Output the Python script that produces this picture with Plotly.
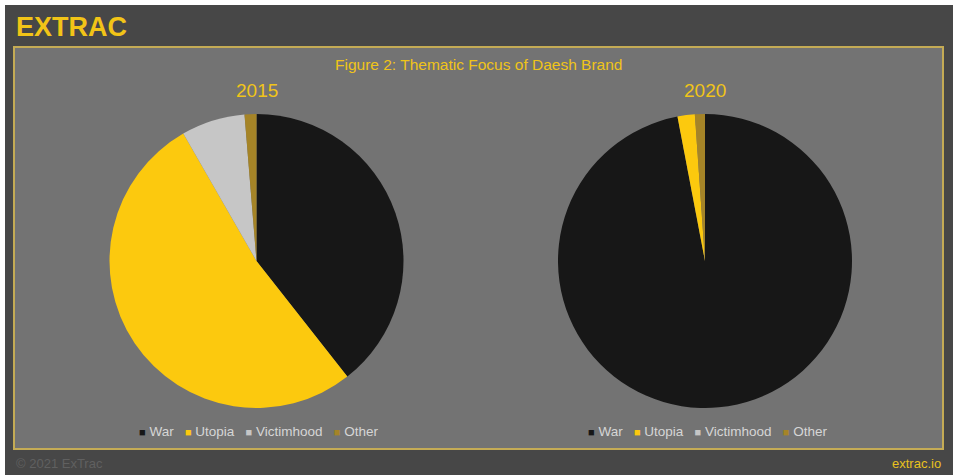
import plotly.graph_objects as go

# ---- data ----
categories = ["War", "Utopia", "Victimhood", "Other"]
values_2015 = [39.4, 52.3, 7.0, 1.3]
values_2020 = [97.0, 1.9, 0.0, 1.1]
years = ["2015", "2020"]
colors = ["#171717", "#fcc90e", "#c6c6c6", "#a58427"]

W, H = 953, 475
FONT = "Liberation Sans, Arial, sans-serif"


def px(x):
    return x / W


def py(y):
    return 1 - y / H


fig = go.Figure()

pie_boxes = [(109.5, 403.5), (558, 852)]
for vals, (x0, x1) in zip([values_2015, values_2020], pie_boxes):
    fig.add_trace(go.Pie(
        labels=categories,
        values=vals,
        sort=False,
        direction="clockwise",
        rotation=0,
        textinfo="none",
        hoverinfo="label+percent",
        marker=dict(colors=colors, line=dict(width=0)),
        domain=dict(x=[px(x0), px(x1)], y=[py(408), py(114)]),
        showlegend=False,
    ))

shapes = [
    # white edge of the scan
    dict(type="rect", xref="paper", yref="paper", x0=0, x1=1, y0=0, y1=1,
         fillcolor="#ffffff", line=dict(width=0), layer="below"),
    # dark background
    dict(type="rect", xref="paper", yref="paper", x0=px(5), x1=1, y0=0, y1=py(5),
         fillcolor="#474747", line=dict(width=0), layer="below"),
    # chart panel
    dict(type="rect", xref="paper", yref="paper", x0=px(14), x1=px(943), y0=py(449), y1=py(47),
         fillcolor="#737373", line=dict(color="#c4ab55", width=2), layer="below"),
]

annotations = [
    dict(text="<b>EXTRAC</b>", x=px(14), y=py(27), xanchor="left", yanchor="middle",
         font=dict(family=FONT, size=27, color="#f2c417"), showarrow=False),
    dict(text="Figure 2: Thematic Focus of Daesh Brand", x=px(478), y=py(65),
         xanchor="center", yanchor="middle",
         font=dict(family=FONT, size=15.5, color="#f0c419"), showarrow=False),
    dict(text="© 2021 ExTrac", x=px(14), y=py(463), xanchor="left", yanchor="middle",
         font=dict(family=FONT, size=13, color="#606060"), showarrow=False),
    dict(text="extrac.io", x=px(943), y=py(463), xanchor="right", yanchor="middle",
         font=dict(family=FONT, size=13, color="#e8c21e"), showarrow=False),
]

for yr, cx in zip(years, [257, 705]):
    annotations.append(dict(text=yr, x=px(cx), y=py(90), xanchor="center", yanchor="middle",
                            font=dict(family=FONT, size=19, color="#f0c419"), showarrow=False))

legend_text = "&nbsp;&nbsp;&nbsp;".join(
    f"<span style='color:{c};font-size:11px'>■</span>&nbsp;{lab}"
    for lab, c in zip(categories, colors)
)
for cx in [258, 707]:
    annotations.append(dict(text=legend_text, x=px(cx), y=py(431), xanchor="center", yanchor="middle",
                            font=dict(family=FONT, size=13.5, color="#d6d6d6"), showarrow=False))

fig.update_layout(
    width=W, height=H, autosize=False,
    margin=dict(l=0, r=0, t=0, b=0),
    paper_bgcolor="#ffffff", plot_bgcolor="#ffffff",
    shapes=shapes, annotations=annotations,
    showlegend=False,
)

fig.write_html(
    "out.html",
    config={"displayModeBar": False},
    post_script="document.body.style.margin='0';document.body.style.overflow='hidden';",
)
